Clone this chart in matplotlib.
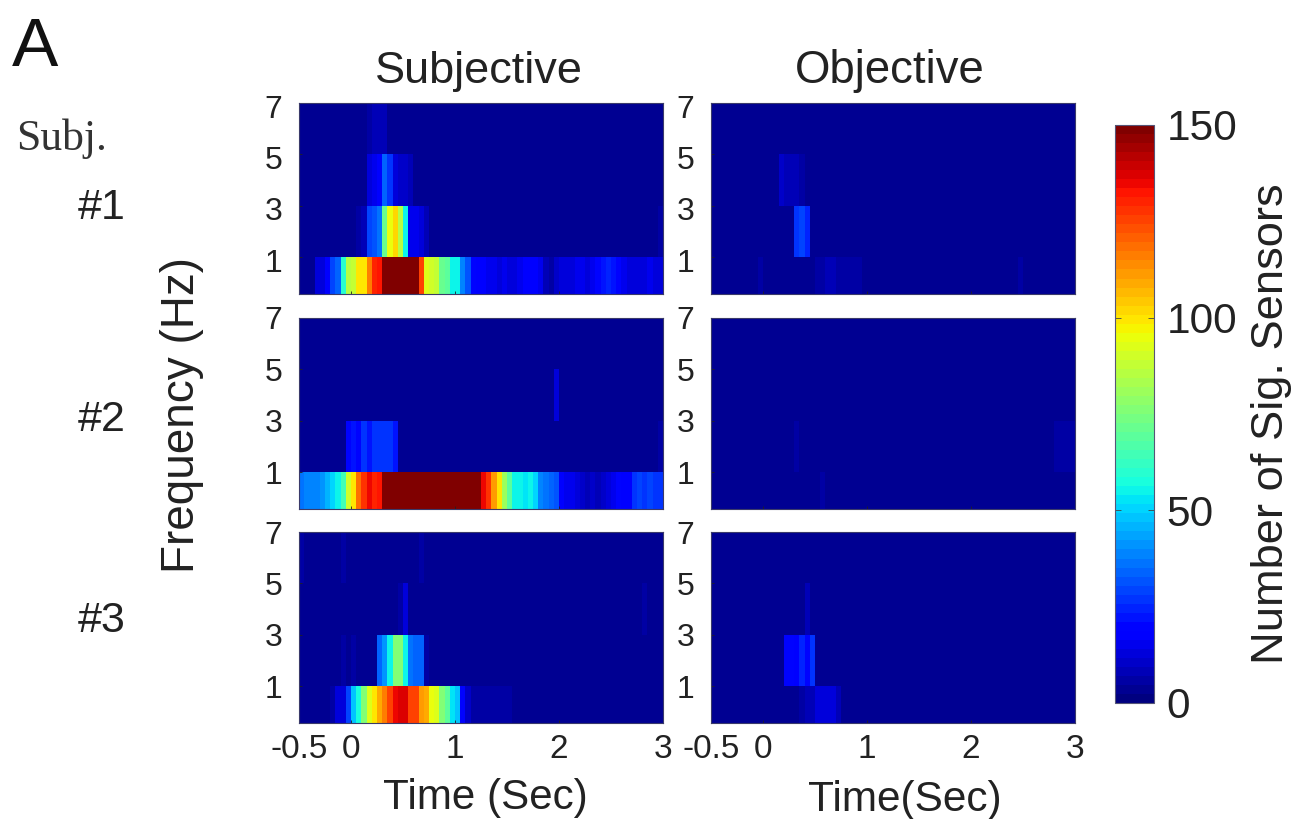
import numpy as np
import matplotlib
matplotlib.use("Agg")
import matplotlib.pyplot as plt
from matplotlib.transforms import ScaledTranslation

plt.rcParams['font.family'] = ['Liberation Sans', 'DejaVu Sans']

W, H = 1297, 819
TIME_EDGES = np.linspace(-0.5, 3.0, 71)
FREQ_EDGES = [-0.44, 1, 3, 5, 7]
FREQ_TICKS = [1, 3, 5, 7]
TIME_TICKS = [-0.5, 0, 1, 2, 3]
TIME_LABELS = ['-0.5', '0', '1', '2', '3']
CBAR_TICKS = [0, 50, 100, 150]
SUBJECTS = ['#1', '#2', '#3']

# Subjective, subject 1
S1_F1 = [3,3,4,12,14,18,30,35,60,85,
         88,100,100,115,130,132,148,150,150,150,
         150,150,150,125,92,90,88,72,68,55,
         55,38,32,20,18,18,16,15,14,16,
         14,14,15,18,18,18,16,8,7,10,
         12,13,13,15,16,14,16,20,22,24,
         22,20,15,14,14,14,14,15,14,12]
S1_F3 = [3,3,3,3,3,3,3,3,3,3,
         3,6,8,30,32,36,72,96,102,85,
         55,16,15,14,8,3,3,3,3,3,
         3,3,3,3,3,3,3,3,3,3,
         3,3,3,3,3,3,3,3,3,3,
         3,3,3,3,3,3,3,3,3,3,
         3,3,3,3,3,3,3,3,3,6]
S1_F5 = [3,3,3,3,3,3,3,3,3,3,
         3,3,3,14,15,18,33,28,12,10,
         10,9,4,3,3,3,3,3,3,3,
         3,3,3,3,3,3,3,3,3,3,
         3,3,3,3,3,3,3,3,3,3,
         3,3,3,3,3,3,3,3,3,3,
         3,3,3,3,3,3,3,3,3,3]
S1_F7 = [3,3,3,3,3,3,3,3,3,3,
         3,3,3,6,8,8,9,4,3,3,
         3,3,3,3,3,3,3,3,3,3,
         3,3,3,3,3,3,3,3,3,3,
         3,3,3,3,3,3,3,3,3,3,
         3,3,3,3,3,3,3,3,3,3,
         3,3,3,3,3,3,3,3,3,3]

# Subjective, subject 2
S2_F1 = [36,38,38,38,42,46,50,54,64,90,
         100,118,128,134,130,133,150,150,150,150,
         150,150,150,150,150,150,150,150,150,150,
         150,150,150,150,150,135,128,112,100,80,
         68,55,54,52,54,50,38,36,34,32,
         18,16,15,14,10,8,10,8,10,12,
         16,20,18,18,28,30,28,30,28,26]
S2_F3 = [3,3,3,3,3,3,3,3,3,20,
         22,20,26,22,27,28,27,26,22,3,
         3,3,3,3,3,3,3,3,3,3,
         3,3,3,3,3,3,3,3,3,3,
         3,3,3,3,3,3,3,3,3,3,
         3,3,3,3,3,3,3,3,3,3,
         3,3,3,3,3,3,3,3,3,5]
S2_F5 = [3,3,3,3,3,3,3,3,3,3,
         3,3,3,3,4,3,4,3,3,3,
         3,3,3,3,3,3,3,3,3,3,
         3,3,3,3,3,3,3,3,3,3,
         3,3,3,3,3,3,3,3,3,12,
         3,3,3,3,3,3,3,3,3,3,
         3,3,3,3,3,3,3,3,3,3]
S2_F7 = [3,3,3,3,3,3,3,3,3,3,
         3,3,3,3,3,3,3,3,3,3,
         3,3,3,3,3,3,3,3,3,3,
         3,3,3,3,3,3,3,3,3,3,
         3,3,3,3,3,3,3,3,3,3,
         3,3,3,3,3,3,3,3,3,3,
         3,3,3,3,3,3,3,3,3,3]

# Subjective, subject 3
S3_F1 = [3,3,3,3,3,4,6,12,14,30,
         48,58,75,92,100,110,115,125,135,136,
         136,125,125,112,110,96,92,75,68,52,
         48,20,10,7,6,6,5,6,6,5,
         5,4,4,4,3,3,3,3,3,3,
         3,3,3,3,3,3,3,3,3,3,
         4,3,4,3,4,3,4,4,3,3]
S3_F3 = [3,3,3,3,3,3,3,4,5,4,
         5,4,3,3,3,35,42,56,76,76,
         55,36,33,33,6,3,3,3,3,3,
         3,3,3,3,3,3,3,3,3,3,
         3,3,3,3,3,3,3,3,3,3,
         3,3,3,3,3,3,3,3,3,3,
         3,3,3,3,3,3,3,3,3,3]
S3_F5 = [3,3,3,3,3,3,3,3,3,3,
         3,3,3,3,4,4,3,4,4,5,
         12,4,3,4,4,3,3,3,3,3,
         3,3,3,3,3,3,3,3,3,3,
         3,3,3,3,3,3,3,3,3,3,
         3,3,3,3,3,3,3,3,3,3,
         3,3,3,3,3,3,7,3,3,3]
S3_F7 = [5,3,3,3,3,3,3,3,5,3,
         3,3,3,4,3,3,3,3,3,3,
         3,3,3,6,3,3,3,3,3,3,
         3,3,3,3,3,3,3,3,3,3,
         3,3,3,3,3,3,3,3,3,3,
         3,3,3,3,3,3,3,3,3,3,
         3,3,3,3,3,3,3,3,3,3]

# Objective, subject 1
O1_F1 = [3,3,3,3,3,3,3,3,3,5,
         4,4,4,4,4,4,4,4,4,4,
         7,7,8,8,7,7,7,6,5,3,
         3,3,3,3,3,3,3,3,3,3,
         3,3,3,3,3,3,3,3,3,3,
         3,3,3,3,3,3,3,3,4,5,
         4,4,3,3,3,3,3,3,3,3]
O1_F3 = [3,3,3,3,3,3,3,3,3,3,
         3,3,3,3,3,3,26,30,25,4,
         3,3,3,3,3,3,3,3,3,3,
         3,3,3,3,3,3,3,3,3,3,
         3,3,3,3,3,3,3,3,3,3,
         3,3,3,3,3,3,3,3,3,3,
         3,3,3,3,3,3,3,3,3,3]
O1_F5 = [3,3,3,3,3,3,3,3,3,3,
         3,3,3,11,9,8,8,7,3,3,
         3,3,3,3,3,3,3,3,3,3,
         3,3,3,3,3,3,3,3,3,3,
         3,3,3,3,3,3,3,3,3,3,
         3,3,3,3,3,3,3,3,3,3,
         3,3,3,3,3,3,3,3,3,3]
O1_F7 = [3,3,3,3,3,3,3,3,3,3,
         3,3,3,4,4,3,3,3,3,3,
         3,3,3,3,3,3,3,3,3,3,
         3,4,3,3,3,3,3,3,3,3,
         3,3,3,3,3,3,3,3,3,3,
         3,3,3,3,3,3,3,3,3,3,
         3,3,3,3,3,3,3,3,3,3]

# Objective, subject 2
O2_F1 = [3,3,3,3,3,3,3,3,3,3,
         3,3,3,3,3,3,3,3,3,3,
         3,5,4,3,3,3,3,3,3,3,
         3,3,3,4,3,3,3,3,3,3,
         3,3,3,3,3,3,3,3,3,3,
         3,3,3,3,3,3,3,3,3,3,
         3,3,3,3,3,3,3,3,3,3]
O2_F3 = [3,3,3,3,3,3,3,3,3,3,
         3,3,3,3,3,3,5,3,3,3,
         3,3,3,3,4,3,3,3,3,3,
         3,3,3,3,3,3,3,3,3,3,
         3,3,3,3,3,3,3,3,3,3,
         3,3,3,3,3,3,3,3,3,3,
         3,3,3,3,3,3,6,6,6,6]
O2_F5 = [3,3,3,3,3,3,3,3,3,3,
         3,3,3,3,3,3,3,3,3,3,
         3,3,3,3,3,3,3,3,3,3,
         3,3,3,3,3,3,3,3,3,3,
         3,3,3,3,3,4,3,3,3,3,
         3,3,3,3,3,3,3,3,3,3,
         3,3,3,3,3,3,3,3,3,3]
O2_F7 = [3,3,3,3,3,3,3,3,3,3,
         3,3,3,3,3,3,3,3,3,3,
         3,3,3,3,3,3,3,3,3,3,
         3,3,3,3,3,4,3,3,3,3,
         3,3,3,3,3,3,3,3,3,3,
         3,3,3,3,3,3,3,3,3,3,
         3,3,3,3,3,3,3,3,3,3]

# Objective, subject 3
O3_F1 = [3,3,3,3,3,3,3,3,3,3,
         3,3,3,3,3,3,3,6,8,9,
         12,14,14,12,9,3,3,3,3,3,
         3,3,3,3,3,3,3,3,3,3,
         3,3,3,3,3,3,3,3,3,3,
         3,3,3,3,3,3,3,3,3,3,
         3,3,3,3,3,3,3,3,3,3]
O3_F3 = [3,3,3,3,3,3,3,3,3,3,
         3,3,3,3,20,20,17,24,21,28,
         4,3,3,3,3,3,3,3,3,3,
         3,3,3,3,3,3,3,3,3,3,
         3,3,3,3,3,3,3,3,3,3,
         3,3,3,3,3,3,3,3,3,3,
         3,3,3,3,3,3,3,3,3,3]
O3_F5 = [3,3,3,3,3,3,3,3,3,3,
         3,3,3,3,3,3,3,3,8,4,
         3,3,3,3,3,3,4,3,3,3,
         3,3,4,3,3,3,3,3,3,3,
         3,3,3,3,3,3,3,3,3,3,
         3,3,3,3,3,3,3,3,4,4,
         3,3,3,3,3,3,3,3,3,3]
O3_F7 = [3,3,3,3,3,3,3,3,3,3,
         3,3,3,3,3,3,3,3,3,4,
         3,3,3,3,3,3,3,3,3,3,
         3,3,3,3,3,3,3,3,3,3,
         3,3,3,3,3,3,3,3,3,3,
         3,3,3,3,3,3,3,3,3,3,
         3,3,3,3,3,3,3,3,3,3]

PANELS = [
    [[S1_F1, S1_F3, S1_F5, S1_F7], [O1_F1, O1_F3, O1_F5, O1_F7]],
    [[S2_F1, S2_F3, S2_F5, S2_F7], [O2_F1, O2_F3, O2_F5, O2_F7]],
    [[S3_F1, S3_F3, S3_F5, S3_F7], [O3_F1, O3_F3, O3_F5, O3_F7]],
]

DPI = 100
fig = plt.figure(figsize=(W / DPI, H / DPI), dpi=DPI, facecolor='white')
INK = '#222222'
EDGE = '#3a3a6a'
cmap = plt.get_cmap('jet', 64)


def axes_px(left, top, right, bottom):
    return fig.add_axes([left / W, 1 - bottom / H, (right - left) / W, (bottom - top) / H])


def text_px(x, y, s, **kw):
    kw.setdefault('ha', 'center')
    kw.setdefault('va', 'center')
    kw.setdefault('color', INK)
    return fig.text(x / W, 1 - y / H, s, **kw)


ROWS = [(103, 294), (318, 509), (532, 723)]
COLS = [(299, 663), (711, 1075)]
LABEL_DROP_PX = [3, 0, 0]
mesh = None
for r, (top, bottom) in enumerate(ROWS):
    for c, (left, right) in enumerate(COLS):
        ax = axes_px(left, top, right, bottom)
        mesh = ax.pcolormesh(TIME_EDGES, FREQ_EDGES, np.array(PANELS[r][c]),
                             cmap=cmap, vmin=0, vmax=150, shading='flat')
        ax.set_xlim(-0.5, 3)
        ax.set_ylim(FREQ_EDGES[0], 7)
        ax.set_yticks(FREQ_TICKS)
        ax.set_yticklabels([str(v) for v in FREQ_TICKS])
        ax.tick_params(axis='y', direction='in', length=2.5, width=0.6, color='#222222',
                       labelsize=23, labelcolor=INK, pad=12)
        ax.set_xticks(TIME_TICKS)
        if r == 2:
            ax.set_xticklabels(TIME_LABELS)
        else:
            ax.set_xticklabels([])
        ax.tick_params(axis='x', direction='in', length=2.5, width=0.6, color='#222222',
                       labelsize=24, labelcolor=INK, pad=8)
        for lab in ax.get_yticklabels():
            lab.set_transform(lab.get_transform() + ScaledTranslation(0, -LABEL_DROP_PX[r] / DPI, fig.dpi_scale_trans))
        for sp in ax.spines.values():
            sp.set_color(EDGE)
            sp.set_linewidth(0.8)

# colour bar
cax = axes_px(1115, 125, 1154, 703)
cb = fig.colorbar(mesh, cax=cax)
cb.set_ticks(CBAR_TICKS)
cb.set_ticklabels([str(v) for v in CBAR_TICKS])
cax.tick_params(axis='y', direction='in', length=4, width=0.6, color='#444444',
                left=True, right=True, labelsize=30.5, labelcolor=INK, pad=9)
cb.outline.set_edgecolor('#555577')
cb.outline.set_linewidth(0.8)

text_px(479, 71, 'Subjective', fontsize=32.5)
text_px(890, 71, 'Objective', fontsize=32.8)
text_px(485, 798, 'Time (Sec)', fontsize=30.3)
text_px(905, 800, 'Time(Sec)', fontsize=30.5)
text_px(182, 415, 'Frequency (Hz)', fontsize=33, rotation=90)
text_px(1272, 424, 'Number of Sig. Sensors', fontsize=32.6, rotation=90)

text_px(35, 66, 'A', fontsize=50, va='baseline', color='#111111')
text_px(62, 139, 'Subj.', fontsize=31.5, family=['Liberation Serif', 'DejaVu Serif'], color='#333333')
text_px(102, 208, SUBJECTS[0], fontsize=31)
text_px(102, 420, SUBJECTS[1], fontsize=31)
text_px(102, 621, SUBJECTS[2], fontsize=31)

fig.savefig('out.png', dpi=DPI, facecolor='white')
